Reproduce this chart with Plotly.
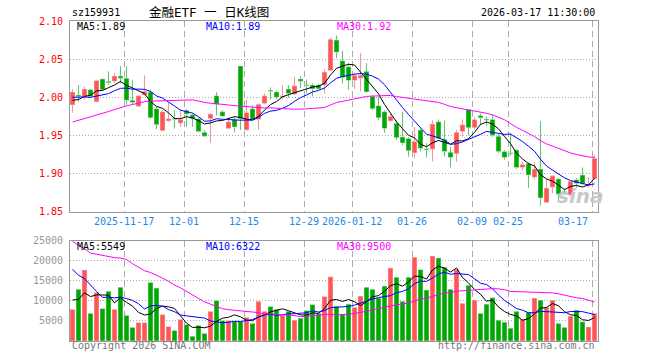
import plotly.graph_objects as go
import numpy as np

# ---------------- data ----------------
tick_labels = ["2025-11-17", "12-01", "12-15", "12-29", "2026-01-12",
               "01-26", "02-09", "02-25", "03-17"]
tick_index = [9, 19, 29, 39, 47, 57, 67, 73, 87]

opens = [1.990, 2.003, 2.001, 2.010, 1.994, 2.024, 2.021, 2.021, 2.028, 2.025,
         1.996, 1.988, 2.003, 2.007, 1.985, 1.956, 1.969, 1.972, 1.966, 1.983,
         1.977, 1.972, 1.954, 1.972, 2.002, 1.981, 1.959, 1.971, 2.041, 1.957,
         1.985, 1.971, 1.992, 2.009, 2.007, 2.000, 2.011, 2.004, 2.024, 2.016,
         2.016, 2.016, 2.016, 2.035, 2.075, 2.048, 2.040, 2.022, 2.025, 2.034,
         2.001, 1.989, 1.981, 1.969, 1.966, 1.948, 1.946, 1.927, 1.957, 1.932,
         1.932, 1.968, 1.945, 1.928, 1.926, 1.955, 1.984, 1.960, 1.976, 1.971,
         1.971, 1.949, 1.929, 1.927, 1.931, 1.908, 1.913, 1.895, 1.906, 1.862,
         1.882, 1.893, 1.876, 1.872, 1.892, 1.898, 1.884, 1.893]
highs = [2.011, 2.016, 2.014, 2.011, 2.023, 2.025, 2.034, 2.032, 2.041, 2.041,
         2.023, 2.003, 2.029, 2.010, 1.988, 1.983, 1.993, 1.983, 1.984, 1.985,
         1.979, 1.973, 1.957, 1.979, 2.007, 1.983, 1.974, 1.974, 2.041, 1.997,
         1.990, 1.992, 2.005, 2.013, 2.009, 2.016, 2.016, 2.027, 2.028, 2.023,
         2.018, 2.018, 2.037, 2.078, 2.081, 2.061, 2.045, 2.032, 2.058, 2.045,
         2.003, 2.001, 1.983, 1.979, 1.970, 1.981, 1.948, 1.961, 1.959, 1.940,
         1.970, 1.971, 1.970, 1.935, 1.957, 1.971, 1.984, 1.974, 1.979, 1.975,
         1.977, 1.952, 1.931, 1.953, 1.932, 1.915, 1.915, 1.915, 1.969, 1.893,
         1.898, 1.894, 1.880, 1.891, 1.894, 1.908, 1.895, 1.925]
lows = [1.980, 1.994, 1.997, 1.999, 1.993, 2.008, 2.016, 2.018, 2.018, 1.990,
        1.990, 1.987, 2.002, 1.972, 1.958, 1.956, 1.968, 1.959, 1.961, 1.961,
        1.961, 1.954, 1.948, 1.940, 1.976, 1.974, 1.958, 1.954, 1.957, 1.956,
        1.970, 1.957, 1.991, 1.997, 1.997, 1.997, 1.999, 2.003, 2.012, 2.005,
        2.001, 2.010, 2.005, 2.034, 2.051, 2.018, 2.010, 2.011, 2.008, 2.006,
        1.983, 1.970, 1.953, 1.968, 1.944, 1.937, 1.922, 1.920, 1.929, 1.921,
        1.916, 1.945, 1.922, 1.908, 1.915, 1.948, 1.950, 1.958, 1.964, 1.962,
        1.948, 1.927, 1.918, 1.923, 1.906, 1.904, 1.881, 1.892, 1.858, 1.861,
        1.874, 1.863, 1.872, 1.870, 1.881, 1.885, 1.882, 1.892]
closes = [2.007, 2.001, 2.011, 2.001, 2.022, 2.010, 2.019, 2.028, 2.025, 1.996,
          1.993, 2.002, 2.008, 1.973, 1.964, 1.981, 1.972, 1.971, 1.971, 1.978,
          1.972, 1.955, 1.949, 1.978, 1.991, 1.975, 1.968, 1.961, 1.972, 1.980,
          1.971, 1.991, 2.002, 2.008, 2.000, 2.002, 2.005, 2.015, 2.021, 2.015,
          2.011, 2.011, 2.033, 2.076, 2.059, 2.026, 2.022, 2.029, 2.029, 2.007,
          1.985, 1.973, 1.959, 1.975, 1.947, 1.940, 1.930, 1.942, 1.933, 1.931,
          1.965, 1.946, 1.929, 1.921, 1.954, 1.964, 1.960, 1.971, 1.973, 1.970,
          1.950, 1.929, 1.921, 1.926, 1.908, 1.912, 1.898, 1.906, 1.868, 1.881,
          1.897, 1.873, 1.875, 1.890, 1.887, 1.887, 1.886, 1.920]
volumes = [7900, 12900, 17700, 6900, 12100, 8100, 12400, 7900, 13400, 6400,
           3400, 4600, 4600, 14600, 13200, 6600, 3600, 2600, 5400, 4100,
           1200, 3900, 1900, 7400, 10100, 5100, 5100, 4900, 4900, 5900,
           4400, 9900, 7400, 8600, 7900, 6400, 7400, 5200, 5700, 7600,
           9100, 6900, 11100, 16000, 8700, 6700, 9200, 8400, 11200, 13400,
           12900, 10700, 13700, 18200, 15900, 9900, 15900, 20900, 17800, 12700,
           21200, 20700, 18400, 12900, 17800, 9400, 13900, 10200, 6900, 9200,
           10800, 5200, 4700, 3200, 7400, 5400, 7200, 10700, 10200, 8400,
           10200, 4400, 3400, 6200, 7700, 4800, 3500, 6900]

# sessions before the first visible one (estimated from where the MA lines start)
prev_closes = [1.935, 1.940, 1.948, 1.944, 1.938, 1.946, 1.950, 1.942, 1.935,
               1.940, 1.945, 1.952, 1.950, 1.958, 1.962, 1.955, 1.960, 1.968,
               1.972, 1.985, 1.998, 2.010, 2.006, 2.004, 2.002, 1.996, 1.990,
               1.994, 1.993]
prev_volumes = [45000, 42000, 40500, 20000, 18000, 19000, 17000, 16500, 16800,
                35000, 32000, 30000, 28000, 33000, 29000, 27000, 31000, 26000,
                30200, 32000, 28000, 26000, 24000, 27000, 23000, 12000, 9500,
                11600, 10000]

header_left = "sz159931"
header_title = "金融ETF 一 日K线图"
header_time = "2026-03-17 11:30:00"
price_legend = ["MA5:1.89", "MA10:1.89", "MA30:1.92"]
volume_legend = ["MA5:5549", "MA10:6322", "MA30:9500"]
price_ticks = [1.85, 1.90, 1.95, 2.00, 2.05, 2.10]
volume_ticks = [5000, 10000, 15000, 20000, 25000]

# ---------------- derived ----------------
def moving_avg(values, prev, n):
    s = np.array(list(prev) + list(values), dtype=float)
    out = np.convolve(s, np.ones(n) / n, mode="valid")
    return out[-len(values):]

n = len(closes)
x = np.arange(n)
RED = "#FF5555"
GREEN = "#00A800"
colors = [RED if c > o else GREEN for o, c in zip(opens, closes)]
body_base = [min(o, c) for o, c in zip(opens, closes)]
body_h = [max(abs(c - o), 0.0014) for o, c in zip(opens, closes)]
wick_h = [h - l for h, l in zip(highs, lows)]

ma_colors = ["#000000", "#0000FF", "#FF00FF"]
ma_periods = [5, 10, 30]

fig = go.Figure()
fig.add_trace(go.Bar(x=x, y=wick_h, base=lows, width=1 / 6, marker_color=colors,
                     xaxis="x", yaxis="y", hoverinfo="skip"))
fig.add_trace(go.Bar(x=x, y=body_h, base=body_base, width=5 / 6, marker_color=colors,
                     xaxis="x", yaxis="y", hoverinfo="skip"))
for p, col in zip(ma_periods, ma_colors):
    fig.add_trace(go.Scatter(x=x, y=moving_avg(closes, prev_closes, p), mode="lines",
                             line=dict(color=col, width=1), xaxis="x", yaxis="y"))

fig.add_trace(go.Bar(x=x, y=volumes, width=5 / 6, marker_color=colors,
                     xaxis="x2", yaxis="y2", hoverinfo="skip"))
for p, col in zip(ma_periods, ma_colors):
    fig.add_trace(go.Scatter(x=x, y=moving_avg(volumes, prev_volumes, p), mode="lines",
                             line=dict(color=col, width=1), xaxis="x2", yaxis="y2"))

MONO = "DejaVu Sans Mono"
BORDER = "#999999"
GRID = "#AAAAAA"
xr = [-2.5 / 6, n - 2.5 / 6]
grid_x = [i - 0.4 for i in tick_index]

common_x = dict(range=xr, tickvals=grid_x, showticklabels=False, ticks="",
                showgrid=True, gridcolor=GRID, griddash="6px,4px", gridwidth=1,
                showline=True, mirror=True, linecolor=BORDER, linewidth=1,
                zeroline=False, fixedrange=True)

fig.update_layout(
    width=660, height=360,
    margin=dict(l=70, r=62, t=21, b=19, pad=0),
    paper_bgcolor="white", plot_bgcolor="white",
    showlegend=False, barmode="overlay", bargap=0,
    xaxis=dict(domain=[0, 1], anchor="y", **common_x),
    xaxis2=dict(domain=[0, 1], anchor="y2", **common_x),
    yaxis=dict(domain=[0.4041, 1], anchor="x", range=[1.85, 2.10],
               tickvals=price_ticks, ticktext=["%.2f" % v for v in price_ticks],
               tickfont=dict(family=MONO, size=10, color="#FF0000"),
               ticks="", ticklabelstandoff=4,
               showgrid=True, gridcolor=GRID, griddash="1px,2px",
               showline=True, mirror=True, linecolor=BORDER, zeroline=False,
               fixedrange=True),
    yaxis2=dict(domain=[0, 0.3134], anchor="x2", range=[0, 25000],
                tickvals=volume_ticks, ticktext=[str(v) for v in volume_ticks],
                tickfont=dict(family=MONO, size=10, color="#999999"),
                ticks="", ticklabelstandoff=4,
                showgrid=True, gridcolor=GRID, griddash="1px,2px",
                showline=True, mirror=True, linecolor=BORDER, zeroline=False,
                fixedrange=True),
)

ann = []
def txt(text, xp, yp, anchor="left", color="#000000", size=10, family=MONO, **kw):
    ann.append(dict(text=text, x=xp, y=yp, xref="paper", yref="paper",
                    xanchor=anchor, yanchor="middle", showarrow=False,
                    font=dict(family=family, size=size, color=color, **kw)))

txt(header_left, 0.0, 1.0266)
txt(header_title, 0.2633, 1.0266, anchor="center", size=12.5,
    family="DejaVu Sans Mono, Noto Sans CJK SC")
txt(header_time, 0.998, 1.0266, anchor="right")
for s, xp, col in zip(price_legend, [0.0095, 0.2538, 0.5019], ma_colors):
    txt(s, xp, 0.9828, color=col)
for s, xp, col in zip(volume_legend, [0.0095, 0.2538, 0.5019], ma_colors):
    txt(s, xp, 0.2938, color=col)
txt("Copyright 2026 SINA.COM", 0.0, -0.014, color="#777777")
txt("http://finance.sina.com.cn", 0.998, -0.014, anchor="right", color="#777777")
txt("sina", 0.966, 0.453, anchor="center", color="#C8C8C8", size=20,
    family="DejaVu Sans", weight="bold", style="italic")

for i, (lab, gx) in enumerate(zip(tick_labels, grid_x)):
    last = i == len(tick_labels) - 1
    ann.append(dict(text=lab, x=gx, y=0.375, xref="x", yref="paper",
                    xanchor="right" if last else "center", yanchor="middle",
                    xshift=-2 if last else 0, showarrow=False,
                    font=dict(family=MONO, size=10, color="#1E88E5")))

fig.update_layout(annotations=ann)
fig.write_html("out.html",
               config={"displayModeBar": False, "staticPlot": True},
               post_script="document.body.style.margin='0px';"
                           "document.body.style.overflow='hidden';")
